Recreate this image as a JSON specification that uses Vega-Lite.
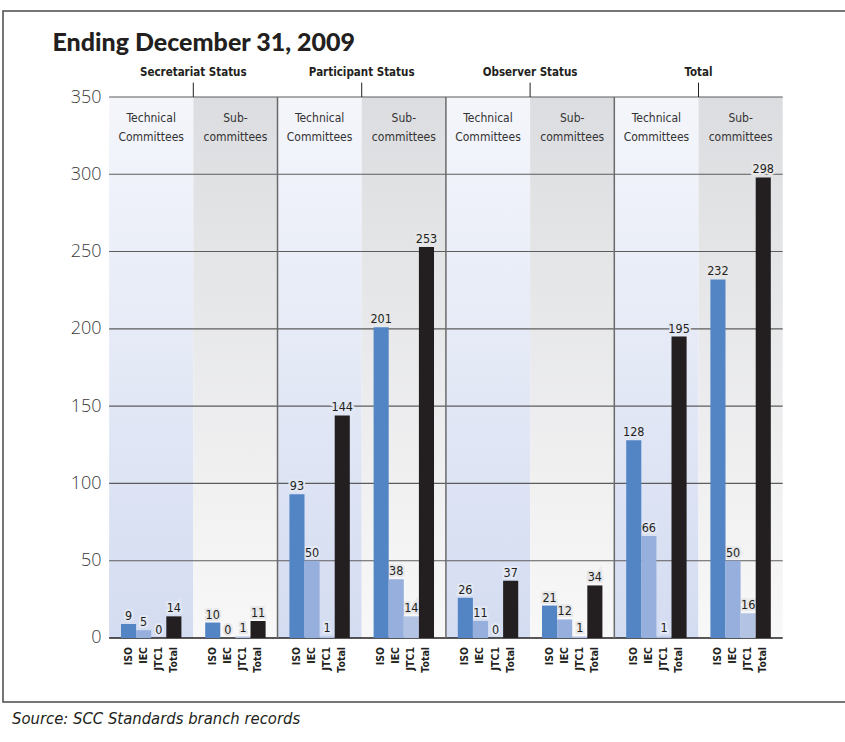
{
  "$schema": "https://vega.github.io/schema/vega-lite/v6.json",
  "width": 842,
  "height": 691,
  "autosize": {"type": "none"},
  "padding": {"left": 3, "top": 11, "right": 0, "bottom": 40},
  "background": "white",
  "config": {"view": {"stroke": "#4a4a4a", "strokeWidth": 1.5, "strokeDash": [842, 691, 1533]}},
  "title": {
    "text": "Source: SCC Standards branch records",
    "orient": "bottom", "anchor": "start", "frame": "group",
    "offset": 21.5, "dx": 9, "baseline": "alphabetic",
    "font": "DejaVu Sans Condensed, sans-serif",
    "fontStyle": "italic", "fontWeight": "normal", "fontSize": 16.5, "color": "#231f20"
  },
  "datasets": {
    "bars": [
      {"panel": "S-TC", "committee": "Technical Committees", "org": "ISO", "value": 9},
      {"panel": "S-TC", "committee": "Technical Committees", "org": "IEC", "value": 5},
      {"panel": "S-TC", "committee": "Technical Committees", "org": "JTC1", "value": 0},
      {"panel": "S-TC", "committee": "Technical Committees", "org": "Total", "value": 14},
      {"panel": "S-SC", "committee": "Sub-committees", "org": "ISO", "value": 10},
      {"panel": "S-SC", "committee": "Sub-committees", "org": "IEC", "value": 0},
      {"panel": "S-SC", "committee": "Sub-committees", "org": "JTC1", "value": 1},
      {"panel": "S-SC", "committee": "Sub-committees", "org": "Total", "value": 11},
      {"panel": "P-TC", "committee": "Technical Committees", "org": "ISO", "value": 93},
      {"panel": "P-TC", "committee": "Technical Committees", "org": "IEC", "value": 50},
      {"panel": "P-TC", "committee": "Technical Committees", "org": "JTC1", "value": 1},
      {"panel": "P-TC", "committee": "Technical Committees", "org": "Total", "value": 144},
      {"panel": "P-SC", "committee": "Sub-committees", "org": "ISO", "value": 201},
      {"panel": "P-SC", "committee": "Sub-committees", "org": "IEC", "value": 38},
      {"panel": "P-SC", "committee": "Sub-committees", "org": "JTC1", "value": 14},
      {"panel": "P-SC", "committee": "Sub-committees", "org": "Total", "value": 253},
      {"panel": "O-TC", "committee": "Technical Committees", "org": "ISO", "value": 26},
      {"panel": "O-TC", "committee": "Technical Committees", "org": "IEC", "value": 11},
      {"panel": "O-TC", "committee": "Technical Committees", "org": "JTC1", "value": 0},
      {"panel": "O-TC", "committee": "Technical Committees", "org": "Total", "value": 37},
      {"panel": "O-SC", "committee": "Sub-committees", "org": "ISO", "value": 21},
      {"panel": "O-SC", "committee": "Sub-committees", "org": "IEC", "value": 12},
      {"panel": "O-SC", "committee": "Sub-committees", "org": "JTC1", "value": 1},
      {"panel": "O-SC", "committee": "Sub-committees", "org": "Total", "value": 34},
      {"panel": "T-TC", "committee": "Technical Committees", "org": "ISO", "value": 128},
      {"panel": "T-TC", "committee": "Technical Committees", "org": "IEC", "value": 66},
      {"panel": "T-TC", "committee": "Technical Committees", "org": "JTC1", "value": 1},
      {"panel": "T-TC", "committee": "Technical Committees", "org": "Total", "value": 195},
      {"panel": "T-SC", "committee": "Sub-committees", "org": "ISO", "value": 232},
      {"panel": "T-SC", "committee": "Sub-committees", "org": "IEC", "value": 50},
      {"panel": "T-SC", "committee": "Sub-committees", "org": "JTC1", "value": 16},
      {"panel": "T-SC", "committee": "Sub-committees", "org": "Total", "value": 298}
    ],
    "panels": [
      {"panel": "S-TC", "committee": "Technical Committees", "label": "Technical\nCommittees"},
      {"panel": "S-SC", "committee": "Sub-committees", "label": "Sub-\ncommittees"},
      {"panel": "P-TC", "committee": "Technical Committees", "label": "Technical\nCommittees"},
      {"panel": "P-SC", "committee": "Sub-committees", "label": "Sub-\ncommittees"},
      {"panel": "O-TC", "committee": "Technical Committees", "label": "Technical\nCommittees"},
      {"panel": "O-SC", "committee": "Sub-committees", "label": "Sub-\ncommittees"},
      {"panel": "T-TC", "committee": "Technical Committees", "label": "Technical\nCommittees"},
      {"panel": "T-SC", "committee": "Sub-committees", "label": "Sub-\ncommittees"}
    ],
    "groups": [
      {"label": "Secretariat Status", "first": "S-TC", "mid": "S-SC"},
      {"label": "Participant Status", "first": "P-TC", "mid": "P-SC"},
      {"label": "Observer Status", "first": "O-TC", "mid": "O-SC"},
      {"label": "Total", "first": "T-TC", "mid": "T-SC"}
    ],
    "grid": [
      {"v": 0}, {"v": 50}, {"v": 100}, {"v": 150}, {"v": 200}, {"v": 250}, {"v": 300}, {"v": 350}
    ]
  },
  "layer": [
    {
      "data": {"name": "panels"},
      "transform": [{"filter": "datum.committee === 'Technical Committees'"}],
      "mark": {"type": "rect", "fill": {"gradient": "linear", "x1": 0, "y1": 0, "x2": 0, "y2": 1,
        "stops": [{"offset": 0, "color": "#f4f6fb"}, {"offset": 1, "color": "#d4dcf1"}]}},
      "encoding": {
        "x": {"field": "panel", "type": "nominal",
          "scale": {"type": "band", "domain": ["S-TC", "S-SC", "P-TC", "P-SC", "O-TC", "O-SC", "T-TC", "T-SC"],
            "paddingInner": 0, "paddingOuter": 1.0344, "align": 0.6301},
          "axis": {"orient": "top", "labels": false, "ticks": false, "domain": false, "grid": false,
            "title": "Ending December 31, 2009", "titleAnchor": "start", "titleAlign": "left",
            "titleBaseline": "alphabetic", "titleX": 49, "titleY": 39,
            "titleFont": "Lato, DejaVu Sans, sans-serif", "titleFontSize": 25, "titleFontWeight": 900, "titleColor": "#231f20"}},
        "y": {"datum": 350, "type": "quantitative",
          "scale": {"domain": [-41.41, 405.64], "nice": false, "zero": false},
          "axis": {"values": [0, 50, 100, 150, 200, 250, 300, 350], "offset": -109, "domain": false,
            "ticks": false, "tickSize": 0, "grid": false, "labelPadding": 11, "title": null,
            "labelFont": "Open Sans, sans-serif", "labelFontWeight": 300, "labelFontSize": 18, "labelColor": "#3a3a3a"}},
        "y2": {"datum": 0}
      }
    },
    {
      "data": {"name": "panels"},
      "transform": [{"filter": "datum.committee === 'Sub-committees'"}],
      "mark": {"type": "rect", "fill": {"gradient": "linear", "x1": 0, "y1": 0, "x2": 0, "y2": 1,
        "stops": [{"offset": 0, "color": "#dcdde0"}, {"offset": 1, "color": "#f8f8f8"}]}},
      "encoding": {
        "x": {"field": "panel", "type": "nominal"},
        "y": {"datum": 350, "type": "quantitative"},
        "y2": {"datum": 0}
      }
    },
    {
      "data": {"name": "grid"},
      "mark": {"type": "rule"},
      "encoding": {
        "x": {"datum": "S-TC", "type": "nominal", "bandPosition": 0},
        "x2": {"datum": "T-SC", "bandPosition": 1},
        "y": {"field": "v", "type": "quantitative"},
        "color": {"condition": {"test": "datum.v === 0", "value": "#231f20"}, "value": "#5c5c5c"},
        "strokeWidth": {"condition": {"test": "datum.v === 0", "value": 1.6}, "value": 1.1}
      }
    },
    {
      "data": {"name": "groups"},
      "transform": [{"filter": "datum.first !== 'S-TC'"}],
      "mark": {"type": "rule", "color": "#6a6a6a", "strokeWidth": 1.5},
      "encoding": {
        "x": {"field": "first", "type": "nominal", "bandPosition": 0},
        "y": {"datum": 0, "type": "quantitative"},
        "y2": {"datum": 350}
      }
    },
    {
      "data": {"name": "groups"},
      "mark": {"type": "rule", "color": "#231f20", "strokeWidth": 1},
      "encoding": {
        "x": {"field": "mid", "type": "nominal", "bandPosition": 0},
        "y": {"datum": 350, "type": "quantitative"},
        "y2": {"datum": 359.3}
      }
    },
    {
      "data": {"name": "groups"},
      "mark": {"type": "text", "baseline": "alphabetic", "align": "center",
        "font": "DejaVu Sans Condensed, sans-serif", "fontSize": 11.5, "fontWeight": "bold", "color": "#231f20"},
      "encoding": {
        "x": {"field": "mid", "type": "nominal", "bandPosition": 0},
        "y": {"datum": 363.3, "type": "quantitative"},
        "text": {"field": "label"}
      }
    },
    {
      "data": {"name": "panels"},
      "mark": {"type": "text", "baseline": "alphabetic", "align": "center", "lineBreak": "\n", "lineHeight": 18.5,
        "font": "DejaVu Sans Condensed, sans-serif", "fontSize": 12, "color": "#333333"},
      "encoding": {
        "x": {"field": "panel", "type": "nominal"},
        "y": {"datum": 333.8, "type": "quantitative"},
        "text": {"field": "label"}
      }
    },
    {
      "data": {"name": "bars"},
      "mark": {"type": "text", "baseline": "alphabetic", "align": "center", "dy": -4, "strokeWidth": 4,
        "font": "DejaVu Sans Condensed, sans-serif", "fontSize": 12.5, "color": "#231f20"},
      "encoding": {
        "x": {"field": "panel", "type": "nominal"},
        "xOffset": {"field": "org", "type": "nominal",
          "scale": {"domain": ["ISO", "IEC", "JTC1", "Total"], "paddingInner": 0, "paddingOuter": 0.7875}},
        "y": {"field": "value", "type": "quantitative"},
        "stroke": {"field": "committee", "type": "nominal",
          "scale": {"domain": ["Technical Committees", "Sub-committees"], "range": ["#e3e8f5", "#e7e7e9"]}, "legend": null},
        "text": {"field": "value"}
      }
    },
    {
      "data": {"name": "bars"},
      "mark": {"type": "bar"},
      "encoding": {
        "x": {"field": "panel", "type": "nominal"},
        "xOffset": {"field": "org", "type": "nominal"},
        "y": {"field": "value", "type": "quantitative", "stack": null},
        "y2": {"datum": 0},
        "color": {"field": "org", "type": "nominal",
          "scale": {"domain": ["ISO", "IEC", "JTC1", "Total"], "range": ["#5385c5", "#97afdc", "#b3c3e4", "#231f20"]}, "legend": null}
      }
    },
    {
      "data": {"name": "bars"},
      "mark": {"type": "text", "baseline": "alphabetic", "align": "center", "dy": -4,
        "font": "DejaVu Sans Condensed, sans-serif", "fontSize": 12.5, "color": "#231f20"},
      "encoding": {
        "x": {"field": "panel", "type": "nominal"},
        "xOffset": {"field": "org", "type": "nominal"},
        "y": {"field": "value", "type": "quantitative"},
        "text": {"field": "value"}
      }
    },
    {
      "data": {"name": "bars"},
      "mark": {"type": "text", "angle": 270, "align": "right", "baseline": "middle",
        "font": "DejaVu Sans Condensed, sans-serif", "fontSize": 10.5, "fontWeight": "bold", "color": "#231f20"},
      "encoding": {
        "x": {"field": "panel", "type": "nominal"},
        "xOffset": {"field": "org", "type": "nominal"},
        "y": {"datum": -5.8, "type": "quantitative"},
        "text": {"field": "org"}
      }
    }
  ]
}
